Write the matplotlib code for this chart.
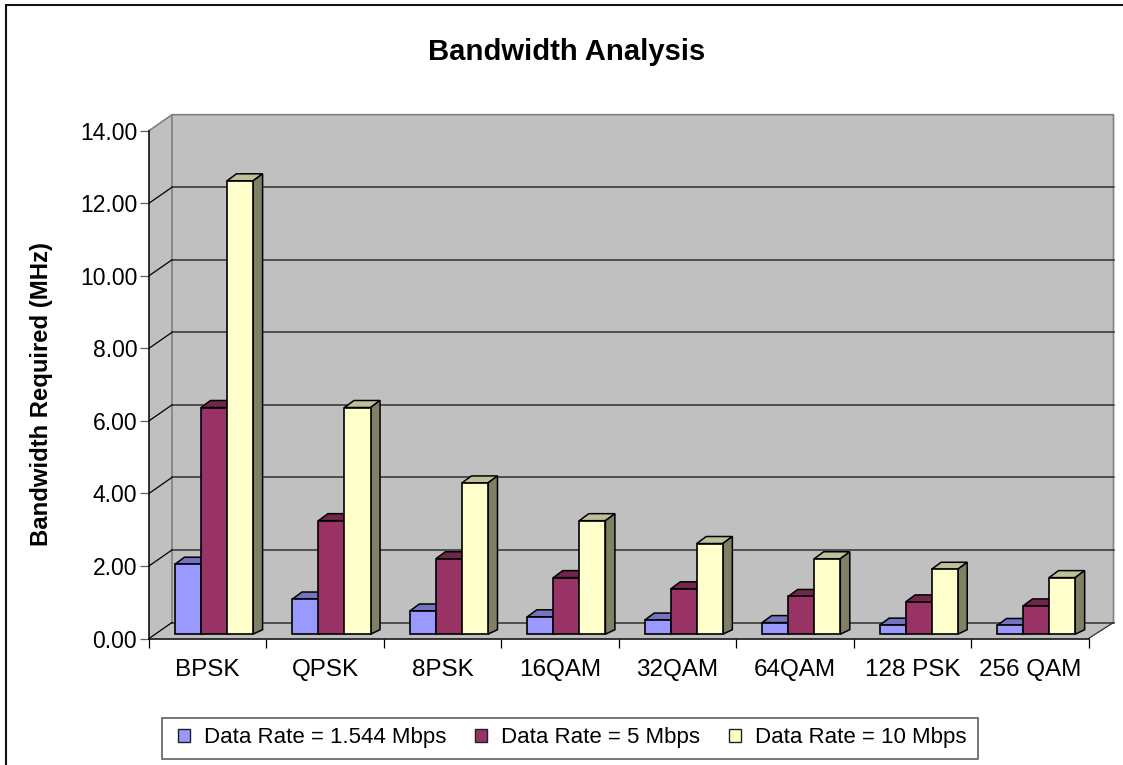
#!/usr/bin/env python
import numpy as np
from matplotlib import pyplot as plt
from matplotlib.lines import Line2D
from matplotlib.patches import Patch, Rectangle
from matplotlib.transforms import Affine2D

categories = ['BPSK', 'QPSK', '8PSK', '16QAM', '32QAM', '64QAM', '128 PSK', '256 QAM']
rate_1544 = [1.93, 0.97, 0.64, 0.48, 0.39, 0.32, 0.25, 0.24]
rate_5 = [6.25, 3.13, 2.08, 1.56, 1.25, 1.04, 0.89, 0.78]
rate_10 = [12.50, 6.25, 4.17, 3.13, 2.50, 2.08, 1.79, 1.56]
series_labels = ['Data Rate = 1.544 Mbps', 'Data Rate = 5 Mbps', 'Data Rate = 10 Mbps']
yticks = [0, 2, 4, 6, 8, 10, 12, 14]

plt.rcParams['font.family'] = ['Liberation Sans', 'DejaVu Sans']

W, H = 1123, 765
X0, X1, Y0, Y14 = 149, 1088.5, 638.5, 130.7
PX = (X1 - X0) / 8   # pixels per category
PY = (Y0 - Y14) / 14  # pixels per MHz

fig = plt.figure(figsize=(W / 100, H / 100), dpi=100, facecolor='white')
ax = fig.add_axes([X0 / W, 1 - Y0 / H, (X1 - X0) / W, (Y0 - Y14) / H])
ax.set_xlim(0, 8)
ax.set_ylim(0, 14)
ax.patch.set_visible(False)

# Walls, offset in depth by about 23 x 16 px
wx, wr, wy = 23 / PX, 25 / PX, 16 / PY
wall = '#C0C0C0'
edge = '#808080'
ax.fill([0, wx, wx, 0], [0, wy, 14 + wy, 14], color=wall, lw=0, zorder=1, clip_on=False)
ax.fill([wx, 8 + wr, 8 + wr, wx], [wy, wy, 14 + wy, 14 + wy], color=wall, lw=0, zorder=1, clip_on=False)
ax.fill([0, 8, 8 + wr, wx], [0, 0, wy, wy], color=wall, lw=0, zorder=1, clip_on=False)
ax.plot([0, wx, 8 + wr, 8 + wr], [14, 14 + wy, 14 + wy, wy], color=edge, lw=1.2, zorder=1.4, clip_on=False)
ax.plot([wx, wx], [wy, 14 + wy], color=edge, lw=1.2, zorder=1.4, clip_on=False)
for v in yticks[:-1]:
    ax.plot([wx, 8 + wr], [v + wy, v + wy], color='#303030', lw=1.1, zorder=1.5, clip_on=False)
    ax.plot([0, wx], [v, v + wy], color='black', lw=0.9, zorder=1.5, clip_on=False)
ax.plot([8, 8 + wr], [0, wy], color='#303030', lw=0.9, zorder=1.5, clip_on=False)

# Bars
series = [rate_1544, rate_5, rate_10]
front = ['#9999FF', '#993366', '#FFFFCC']
top = ['#7373BF', '#73264D', '#BFBF99']
side = ['#7373BF', '#73264D', '#808066']
bw = 26.1 / PX
off = 26 / PX
shift = ax.transData + Affine2D().translate(0, 4.3)
ddx, ddy, ddb = 9.5 / PX, 7 / PY, 4.5 / PY
x = np.arange(len(categories))
handles = []
for s, vals in enumerate(series):
    left = x + 26 / PX + s * off
    z = 3 + s
    for l, v in zip(left, vals):
        r = l + bw
        ax.fill([l, r, r + ddx, l + ddx], [v, v, v + ddy, v + ddy], facecolor=top[s], edgecolor='black',
                lw=1.1, zorder=z, clip_on=False, transform=shift, joinstyle='miter')
        ax.fill([r, r + ddx, r + ddx, r], [0, ddb, v + ddy, v], facecolor=side[s], edgecolor='black',
                lw=1.1, zorder=z, clip_on=False, transform=shift, joinstyle='miter')
    ax.bar(left, vals, width=bw, align='edge', color=front[s], edgecolor='black', lw=1.2, zorder=z + 0.5,
           clip_on=False, transform=shift)
    handles.append(Patch(facecolor=front[s], edgecolor='#202020', lw=1, label=series_labels[s]))

# Axes
for name in ['top', 'right']:
    ax.spines[name].set_visible(False)
for name in ['left', 'bottom']:
    ax.spines[name].set_linewidth(1.1)
    ax.spines[name].set_zorder(2.5)
ax.set_yticks(yticks)
ax.set_yticklabels(['{:.2f}'.format(v) for v in yticks], fontsize=16.5)
ax.set_xticks(np.arange(9))
ax.set_xticklabels([])
ax.set_xticks(x + 0.5, labels=categories, minor=True, fontsize=17.5)
ax.tick_params(axis='x', which='major', length=6.5, width=0.9, color='black')
ax.tick_params(axis='x', which='minor', length=0, pad=15)
ax.tick_params(axis='y', length=6.5, width=0.9, color='#606060', pad=2)
ax.set_ylabel('Bandwidth Required (MHz)', fontsize=17.2, fontweight='bold')
ax.yaxis.set_label_coords((53 - X0) / (X1 - X0), 0.5 - (393.5 - (Y0 + Y14) / 2) / (Y0 - Y14))

fig.text(566.5 / W, 1 - 52 / H, 'Bandwidth Analysis', ha='center', va='center', fontsize=21.1, fontweight='bold')

# Legend box is wider than matplotlib's padding allows, so it is drawn apart
fig.add_artist(Rectangle((161.7 / W, 1 - 759.3 / H), 816.3 / W, 41.6 / H, transform=fig.transFigure,
                         facecolor='white', edgecolor='#606060', lw=1.2))
leg = fig.legend(handles=handles, loc='center', bbox_to_anchor=(572 / W, 1 - 738 / H), ncol=3,
                 frameon=False, fontsize=16, handlelength=0.55, handleheight=0.55, handletextpad=0.62,
                 columnspacing=1.3, borderpad=0.45, borderaxespad=0)

# Chart border, only left and top show in the picture
fig.add_artist(Line2D([6 / W, 6 / W, 1], [0, 1 - 4.5 / H, 1 - 4.5 / H], transform=fig.transFigure,
                      color='#111111', lw=1.5, solid_joinstyle='miter'))

fig.savefig('out.png', dpi=100)
plt.close(fig)
